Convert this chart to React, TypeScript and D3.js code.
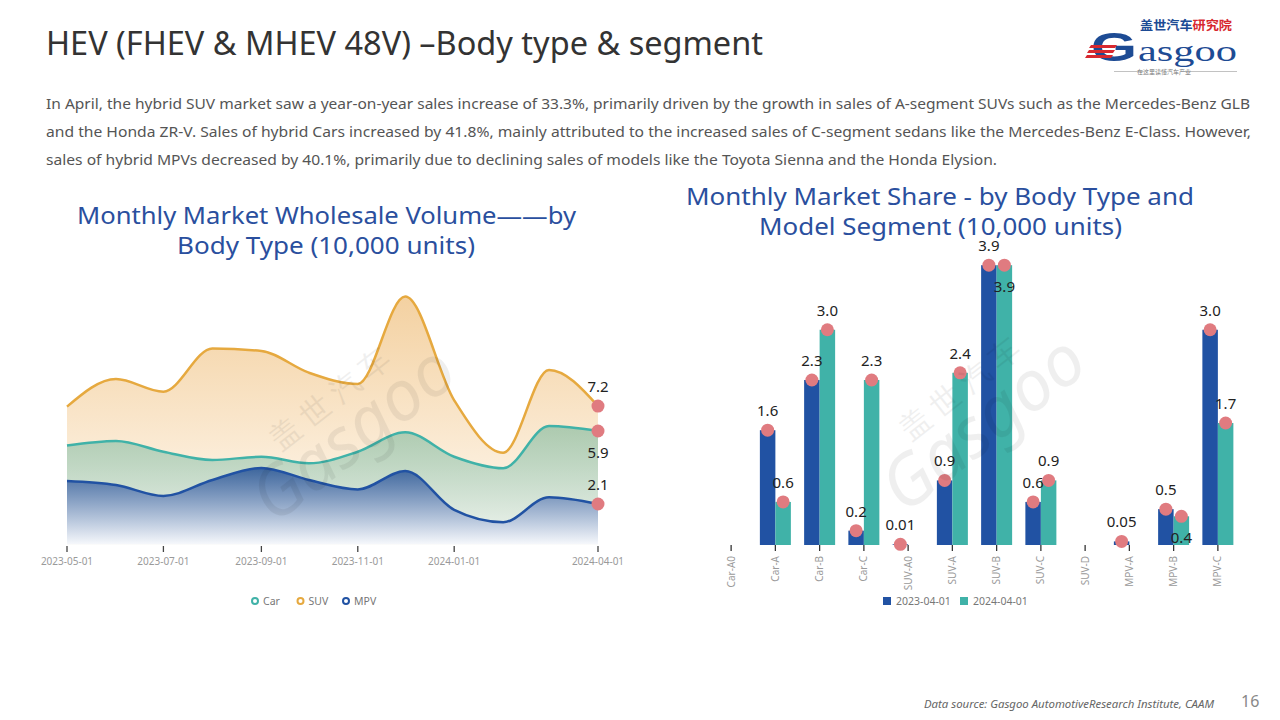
import React from 'react';
import * as d3 from 'd3';

// ---------- Data ----------
const months = ['2023-05-01','2023-06-01','2023-07-01','2023-08-01','2023-09-01','2023-10-01','2023-11-01','2023-12-01','2024-01-01','2024-02-01','2024-03-01','2024-04-01'];
const carValues = [5.14, 5.38, 4.82, 4.39, 4.56, 4.22, 4.82, 5.83, 4.56, 3.96, 6.16, 5.9];
const suvValues = [7.17, 8.61, 7.95, 10.2, 10.07, 8.94, 8.35, 12.9, 7.5, 4.77, 9.08, 7.2];
const mpvValues = [3.3, 3.09, 2.52, 3.35, 3.98, 3.35, 2.86, 3.82, 1.79, 1.15, 2.45, 2.1];
const lineTickLabels = ['2023-05-01','2023-07-01','2023-09-01','2023-11-01','2024-01-01','2024-04-01'];

const segments = ['Car-A0','Car-A','Car-B','Car-C','SUV-A0','SUV-A','SUV-B','SUV-C','SUV-D','MPV-A','MPV-B','MPV-C'];
const share2023: (number | null)[] = [null, 1.6, 2.3, 0.2, 0.01, 0.9, 3.9, 0.6, null, 0.05, 0.5, 3.0];
const share2024: (number | null)[] = [null, 0.6, 3.0, 2.3, null, 2.4, 3.9, 0.9, null, null, 0.4, 1.7];
const barSeriesNames = ['2023-04-01', '2024-04-01'];

// label placement (style)
const place2024 = ['top','top','top','top','top','top','bottom','top','top','top','bottom','top'];

const paragraph = [
  'In April, the hybrid SUV market saw a year-on-year sales increase of 33.3%, primarily driven by the growth in sales of A-segment SUVs such as the Mercedes-Benz GLB',
  'and the Honda ZR-V. Sales of hybrid Cars increased by 41.8%, mainly attributed to the increased sales of C-segment sedans like the Mercedes-Benz E-Class.  However,',
  'sales of hybrid MPVs decreased by 40.1%, primarily due to declining sales of models like the Toyota Sienna and the Honda Elysion.',
];

const FONT = '"Noto Sans", "Open Sans", sans-serif';
const CAR = '#40b2a8';
const SUV = '#e6a93f';
const MPV = '#2152a3';
const DOT = '#e07b80';
const BLUE_TITLE = '#2a4f9e';

function LineChart() {
  const parse = d3.timeParse('%Y-%m-%d');
  const dates = months.map((m) => parse(m) as Date);
  const x = d3.scaleTime().domain([dates[0], dates[dates.length - 1]]).range([67, 598]);
  const y = d3.scaleLinear().domain([0, 14]).range([544.3, 544.3 - 14 * 19.2]);
  const series = [
    { name: 'SUV', values: suvValues, color: SUV, grad: 'gSuv', place: 'top' },
    { name: 'Car', values: carValues, color: CAR, grad: 'gCar', place: 'bottom' },
    { name: 'MPV', values: mpvValues, color: MPV, grad: 'gMpv', place: 'top' },
  ];
  const area = d3.area<number>().x((_, i) => x(dates[i])).y0(y(0)).y1((d) => y(d)).curve(d3.curveMonotoneX);
  const line = d3.line<number>().x((_, i) => x(dates[i])).y((d) => y(d)).curve(d3.curveMonotoneX);
  const legend = [
    { name: 'Car', color: CAR },
    { name: 'SUV', color: SUV },
    { name: 'MPV', color: MPV },
  ];
  let lx = 251;
  return (
    <g>
      <defs>
        <linearGradient id="gSuv" x1="0" y1="0" x2="0" y2="1">
          <stop offset="0" stopColor="rgb(236,178,98)" stopOpacity={0.6} />
          <stop offset="1" stopColor="rgb(255,248,238)" stopOpacity={0.6} />
        </linearGradient>
        <linearGradient id="gCar" x1="0" y1="0" x2="0" y2="1">
          <stop offset="0" stopColor="rgb(110,178,150)" stopOpacity={0.55} />
          <stop offset="1" stopColor="rgb(238,244,240)" stopOpacity={0.7} />
        </linearGradient>
        <linearGradient id="gMpv" x1="0" y1="0" x2="0" y2="1">
          <stop offset="0" stopColor="rgb(38,82,150)" stopOpacity={0.85} />
          <stop offset="1" stopColor="rgb(246,248,252)" stopOpacity={0.95} />
        </linearGradient>
      </defs>
      {series.map((s) => (
        <path key={s.name + 'a'} d={area(s.values) || ''} fill={`url(#${s.grad})`} />
      ))}
      {series.map((s) => (
        <path key={s.name + 'l'} d={line(s.values) || ''} fill="none" stroke={s.color} strokeWidth={2.5} />
      ))}
      {series.map((s) => {
        const v = s.values[s.values.length - 1];
        const cx = x(dates[dates.length - 1]);
        const cy = y(v);
        return (
          <g key={s.name + 'd'}>
            <circle cx={cx} cy={cy} r={6.5} fill={DOT} />
            <text x={cx} y={s.place === 'top' ? cy - 14 : cy + 27} textAnchor="middle" fontSize={15} fill="#222" fontFamily={FONT}>
              {v.toFixed(1)}
            </text>
          </g>
        );
      })}
      {lineTickLabels.map((t) => {
        const tx = x(parse(t) as Date);
        return (
          <g key={t}>
            <line x1={tx} x2={tx} y1={546} y2={552} stroke="#444" strokeWidth={1.3} />
            <text x={tx} y={565} textAnchor="middle" fontSize={10} fill="#9a9a9a" fontFamily={FONT}>{t}</text>
          </g>
        );
      })}
      {legend.map((l) => {
        const g = (
          <g key={l.name}>
            <circle cx={lx + 4} cy={601} r={3} fill="#fff" stroke={l.color} strokeWidth={2} />
            <text x={lx + 12} y={605} fontSize={10.5} fill="#777" fontFamily={FONT}>{l.name}</text>
          </g>
        );
        lx += l.name.length * 6.5 + 26;
        return g;
      })}
    </g>
  );
}

function BarChart() {
  const x = d3.scaleBand().domain(segments).range([709, 1240]);
  const y = d3.scaleLinear().domain([0, 4]).range([545, 258]);
  const bw = 15.5;
  const bars = [
    { vals: share2023, color: MPV, off: -bw, place: segments.map(() => 'top') },
    { vals: share2024, color: CAR, off: 0, place: place2024 },
  ];
  return (
    <g>
      {bars.map((b, si) =>
        b.vals.map((v, i) => {
          if (v === null) return null;
          const cx = (x(segments[i]) as number) + x.bandwidth() / 2;
          return (
            <rect key={si + '-' + i} x={cx + b.off} width={bw} y={y(v)} height={y(0) - y(v)} fill={b.color} />
          );
        })
      )}
      {segments.map((s) => {
        const cx = (x(s) as number) + x.bandwidth() / 2;
        return (
          <g key={s}>
            <line x1={cx} x2={cx} y1={545} y2={551} stroke="#333" strokeWidth={1.3} />
            <text transform={`translate(${cx + 3.5},${556}) rotate(-90)`} textAnchor="end" fontSize={10} fill="#9a9a9a" fontFamily={FONT}>{s}</text>
          </g>
        );
      })}
      {bars.map((b, si) =>
        b.vals.map((v, i) => {
          if (v === null) return null;
          const cx = (x(segments[i]) as number) + x.bandwidth() / 2 + b.off + bw / 2;
          const cy = y(v);
          const label = v < 0.1 ? String(v) : v.toFixed(1);
          return (
            <g key={'d' + si + '-' + i}>
              <circle cx={cx} cy={cy} r={6.5} fill={DOT} />
              <text x={cx} y={b.place[i] === 'top' ? cy - 14 : cy + 27} textAnchor="middle" fontSize={15} fill="#222" fontFamily={FONT}>{label}</text>
            </g>
          );
        })
      )}
      {barSeriesNames.map((n, i) => (
        <g key={n}>
          <rect x={883 + i * 77} y={597} width={8} height={8} fill={i === 0 ? MPV : CAR} />
          <text x={896 + i * 77} y={605} fontSize={10.5} fill="#777" fontFamily={FONT}>{n}</text>
        </g>
      ))}
    </g>
  );
}

function Watermark({ cx, cy }: { cx: number; cy: number }) {
  return (
    <g transform={`translate(${cx},${cy}) rotate(-38)`} opacity={0.06} fontFamily={FONT}>
      <text x={-40} y={-30} fontSize={30} fill="#000">盖 世 汽 车</text>
      <text x={-90} y={25} fontSize={70} fill="#000" fontStyle="italic">Gasgoo</text>
    </g>
  );
}

export default function App() {
  return (
    <div style={{ position: 'fixed', left: 0, top: 0, width: 1280, height: 720, background: '#fff' }}>
      <svg width={1280} height={720} viewBox="0 0 1280 720" style={{ display: 'block' }}>
        <rect width={1280} height={720} fill="#fff" />
        <text x={46} y={55} fontSize={32} fill="#333" fontFamily={FONT} textLength={717} lengthAdjust="spacingAndGlyphs">
          HEV (FHEV &amp; MHEV 48V)  –Body type &amp; segment
        </text>
        {paragraph.map((p, i) => (
          <text key={i} x={46} y={109 + i * 28} fontSize={14.5} fill="#555" fontFamily={FONT}
            textLength={i === 0 ? 1204 : i === 1 ? 1205 : 951} lengthAdjust="spacingAndGlyphs">{p}</text>
        ))}
        {/* logo */}
        <g fontFamily={'"Noto Sans CJK SC", sans-serif'}>
          <text x={1140} y={30} fontSize={12.5} fontWeight={700} fill="#1d4b94" textLength={92} lengthAdjust="spacingAndGlyphs">盖世汽车<tspan fill="#d7282f">研究院</tspan></text>
          <text x={1091} y={61} fontSize={40} fill="#1d4b94" fontFamily={'"Liberation Sans", sans-serif'} fontWeight={700} textLength={46} lengthAdjust="spacingAndGlyphs">G</text>
          <path d="M1091,45 h26 l-2,3 h-26 z M1089,50 h26 l-2,3 h-26 z M1087,55 h26 l-2,3 h-26 z" fill="#d7282f" />
          <text x={1138} y={61} fontSize={30} fill="#1d4b94" fontFamily={'"Liberation Serif", serif'} textLength={99} lengthAdjust="spacingAndGlyphs">asgoo</text>
          <line x1={1114} x2={1143} y1={71.5} y2={71.5} stroke="#999" strokeWidth={0.6} />
          <line x1={1184} x2={1237} y1={71.5} y2={71.5} stroke="#999" strokeWidth={0.6} />
          <text x={1164} y={74} fontSize={6} fill="#777" textAnchor="middle">在这里读懂汽车产业</text>
        </g>
        {/* chart titles */}
        <g fontFamily={FONT} fill={BLUE_TITLE} fontSize={24} textAnchor="middle">
          <text x={326.5} y={224} textLength={499} lengthAdjust="spacingAndGlyphs">Monthly Market Wholesale Volume——by</text>
          <text x={326} y={254} textLength={298} lengthAdjust="spacingAndGlyphs">Body Type (10,000 units)</text>
          <text x={940} y={205} textLength={508} lengthAdjust="spacingAndGlyphs">Monthly Market Share - by Body Type and</text>
          <text x={940.5} y={235} textLength={363} lengthAdjust="spacingAndGlyphs">Model Segment (10,000 units)</text>
        </g>
        <LineChart />
        <Watermark cx={330} cy={450} />
        <BarChart />
        <Watermark cx={960} cy={440} />
        <text x={924} y={708} fontSize={10.5} fontStyle="italic" fill="#666" fontFamily={FONT} textLength={290} lengthAdjust="spacingAndGlyphs">
          Data source: Gasgoo AutomotiveResearch Institute, CAAM
        </text>
        <text x={1241} y={707} fontSize={16} fill="#888" fontFamily={FONT}>16</text>
      </svg>
    </div>
  );
}
